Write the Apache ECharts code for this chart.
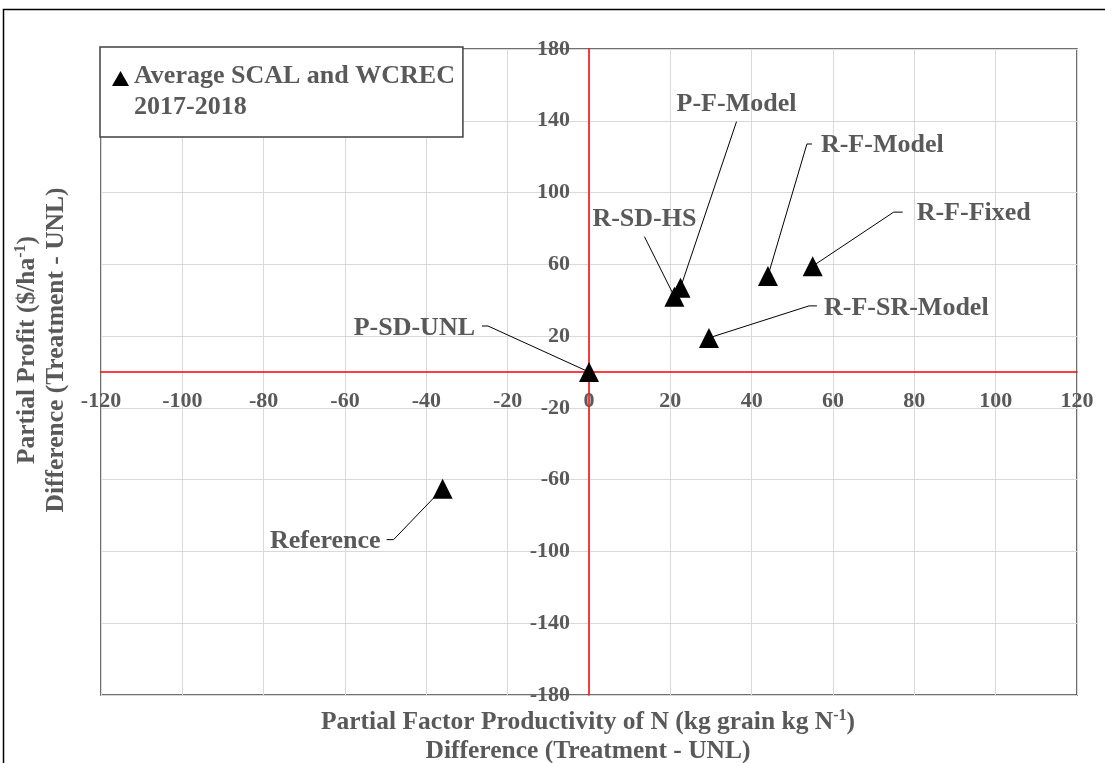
<!DOCTYPE html>
<html>
<head>
<meta charset="utf-8">
<script src="https://cdn.jsdelivr.net/npm/echarts@6/dist/echarts.min.js"></script>
<style>
  html, body { margin: 0; padding: 0; background: #fff; }
  #chart { width: 1105px; height: 763px; }
</style>
</head>
<body>
<div id="chart"></div>
<script>
// Treatment differences relative to UNL (average of SCAL and WCREC, 2017-2018)
const treatments = ['P-SD-UNL', 'R-SD-HS', 'P-F-Model', 'R-F-Model', 'R-F-Fixed', 'R-F-SR-Model', 'Reference'];
const pfpDiff    = [0, 21, 22.5, 44, 55, 29.5, -36];     // kg grain kg N-1
const profitDiff = [0, 42, 47, 53.5, 59, 19, -65];       // $/ha-1
const seriesName = 'Average SCAL and WCREC\n2017-2018';

// Axis ranges
const xRange = [-120, 120], xStep = 20;
const yRange = [-180, 180], yStep = 40;

// Callout placement around each marker (pixel offsets from the marker centre)
const callouts = [
  { dx: -114, dy: -44,  align: 'right',  line: [[-107, -46], [-101, -46], [0, 0]] },
  { dx: -30,  dy: -77,  align: 'center', line: [[-30, -60], [0, 0]] },
  { dx: 56,   dy: -183, align: 'center', line: [[56, -166], [0, 0]] },
  { dx: 53,   dy: -131, align: 'left',   line: [[44, -132], [39, -132], [0, 0]] },
  { dx: 104,  dy: -53,  align: 'left',   line: [[90, -54], [81, -54], [0, 0]] },
  { dx: 115,  dy: -30,  align: 'left',   line: [[108, -32], [100, -32], [0, 0]] },
  { dx: -62,  dy: 53,   align: 'right',  line: [[-56, 51], [-49, 51], [0, 0]] }
];

const serif = '"Liberation Serif", "Times New Roman", serif';
const grey = '#595959';
const labelFont = 'bold 26px ' + serif;

const W = 1105, H = 763;
const gridBox = { left: 101, right: 28, top: 49, bottom: 68 };
const plotW = W - gridBox.left - gridBox.right;
const plotH = H - gridBox.top - gridBox.bottom;
// both axes cross at zero: shift them in from the plot edges
const xAxisShift = plotH * (0 - yRange[0]) / (yRange[1] - yRange[0]);
const yAxisShift = plotW * (0 - xRange[0]) / (xRange[1] - xRange[0]);

const points = treatments.map((n, i) => [pfpDiff[i], profitDiff[i]]);

const titleRich = {
  a: { fontFamily: serif, fontWeight: 'bold', fontSize: 25.5, fill: grey, lineHeight: 29 },
  s: { fontFamily: serif, fontWeight: 'bold', fontSize: 16, fill: grey, lineHeight: 29, verticalAlign: 'top' }
};

const chart = echarts.init(document.getElementById('chart'), null, { renderer: 'canvas' });

chart.setOption({
  animation: false,
  backgroundColor: '#fff',
  grid: {
    left: gridBox.left, right: gridBox.right, top: gridBox.top, bottom: gridBox.bottom,
    show: true, borderColor: '#404040', borderWidth: 1.5, backgroundColor: 'transparent'
  },
  xAxis: {
    type: 'value', min: xRange[0], max: xRange[1], interval: xStep,
    position: 'bottom', offset: -xAxisShift,
    axisLine: { onZero: false, lineStyle: { color: '#ff0000', width: 1.5 } },
    axisTick: { show: false },
    axisLabel: { margin: 18, fontFamily: serif, fontWeight: 'bold', fontSize: 22, color: grey },
    splitLine: { show: true, lineStyle: { color: '#d9d9d9', width: 1 } }
  },
  yAxis: {
    type: 'value', min: yRange[0], max: yRange[1], interval: yStep,
    position: 'left', offset: -yAxisShift,
    axisLine: { onZero: false, lineStyle: { color: '#ff0000', width: 1.5 } },
    axisTick: { show: false },
    axisLabel: { margin: 19, fontFamily: serif, fontWeight: 'bold', fontSize: 22, color: grey },
    splitLine: { show: true, lineStyle: { color: '#d9d9d9', width: 1 } }
  },
  legend: {
    left: 100, top: 47, orient: 'vertical',
    padding: [14, 8, 14, 12],
    backgroundColor: '#fff', borderColor: '#404040', borderWidth: 1.5, borderRadius: 0,
    itemWidth: 17, itemHeight: 62, selectedMode: false,
    data: [{
      name: seriesName,
      // triangle sits beside the first text line; the bare moves pad the icon box
      icon: 'path://M0,0 M8.5,10 L17,25 L0,25 Z M8.5,62'
    }],
    textStyle: { fontFamily: serif, fontWeight: 'bold', fontSize: 26, color: grey, lineHeight: 31 }
  },
  series: [
    {
      type: 'custom',
      name: 'callouts',
      z: 2,
      silent: true,
      data: points,
      encode: { x: 0, y: 1 },
      renderItem: function (params, api) {
        const i = params.dataIndex;
        const p = api.coord([api.value(0), api.value(1)]);
        const c = callouts[i];
        const pts = c.line.map(o => [p[0] + o[0], p[1] + o[1]]);
        return {
          type: 'group',
          children: [
            { type: 'polyline', shape: { points: pts }, style: { stroke: '#000', lineWidth: 1, fill: 'none' } },
            { type: 'text', x: p[0] + c.dx, y: p[1] + c.dy,
              style: { text: treatments[i], font: labelFont, fill: grey, align: c.align, verticalAlign: 'middle' } }
          ]
        };
      }
    },
    {
      type: 'scatter',
      name: seriesName,
      z: 3,
      symbol: 'triangle',
      symbolSize: 20,
      itemStyle: { color: '#000', opacity: 1 },
      data: points
    }
  ],
  graphic: [
    // outer frame
    { type: 'rect', z: 50, silent: true,
      shape: { x: 3.5, y: 9.5, width: 1200, height: 900 },
      style: { fill: 'none', stroke: '#000', lineWidth: 1.5 } },
    // x-axis title
    { type: 'text', x: 588, y: 737, z: 50,
      style: {
        text: '{a|Partial Factor Productivity of N (kg grain kg N}{s|-1}{a|)}\n{a|Difference (Treatment - UNL)}',
        rich: titleRich, align: 'center', verticalAlign: 'middle'
      } },
    // y-axis title
    { type: 'text', x: 42, y: 350, z: 50, rotation: Math.PI / 2,
      style: {
        text: '{a|Partial Profit ($/ha}{s|-1}{a|)}\n{a|Difference (Treatment - UNL)}',
        rich: titleRich, align: 'center', verticalAlign: 'middle'
      } }
  ]
});
</script>
</body>
</html>
